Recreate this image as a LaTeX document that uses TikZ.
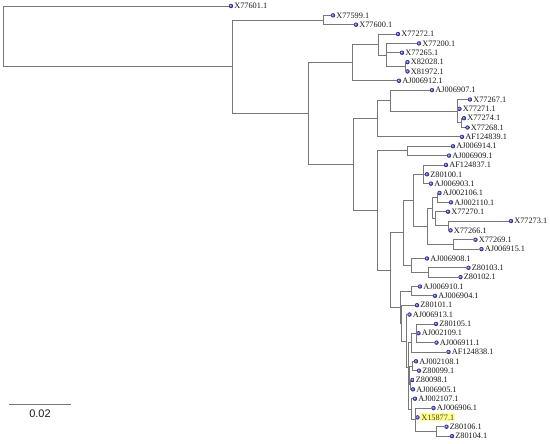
\documentclass[tikz,border=0pt]{standalone}
\usepackage{fontspec}
\newfontfamily\labfont{Liberation Serif}
\newfontfamily\barfont{Liberation Sans}
\definecolor{linegray}{RGB}{120,120,120}
\definecolor{dotblue}{RGB}{70,70,215}
\definecolor{labtext}{RGB}{25,25,25}
\definecolor{hlyellow}{RGB}{255,255,150}
\definecolor{hltext}{RGB}{70,70,0}
\tikzset{
  branch/.style={draw=linegray, line width=0.8pt},
  leaf/.style={circle, inner sep=0pt, minimum size=4.4pt, shading=ball, ball color=dotblue},
  lab/.style={font=\labfont\fontsize{8.3}{9}\selectfont, text=labtext, inner sep=0.7pt},
  barlab/.style={font=\barfont\fontsize{11}{12}\selectfont, text=labtext, inner sep=0pt}
}
\begin{document}
\begin{tikzpicture}[x=1pt,y=-1pt]
\useasboundingbox (0,0) rectangle (550,444);
% internal nodes
\coordinate (nRoot) at (3,36.4);
\coordinate (nA) at (232,66.85);
\coordinate (nB) at (323,20);
\coordinate (nC) at (308,113.7);
\coordinate (nN4) at (352,62.7);
\coordinate (nN3) at (378,44.6);
\coordinate (nN1) at (386,55.1);
\coordinate (nN2) at (405,66.8);
\coordinate (nD) at (353,164.6);
\coordinate (nCl) at (377,118.8);
\coordinate (nP) at (390,100.7);
\coordinate (nQ) at (457,111.2);
\coordinate (nR) at (461,122.9);
\coordinate (nE) at (377,210.5);
\coordinate (nW) at (407,150.9);
\coordinate (nF) at (390,270);
\coordinate (nG) at (403,232.9);
\coordinate (nH) at (413,200.3);
\coordinate (nK) at (423,174.3);
\coordinate (nU) at (427,226.3);
\coordinate (nM) at (432,208.2);
\coordinate (nS) at (437,197.7);
\coordinate (nNn) at (435,218.7);
\coordinate (nO) at (448,225.7);
\coordinate (nT) at (453,244.4);
\coordinate (nI) at (411.5,265.5);
\coordinate (nJ) at (428,272.5);
\coordinate (nX) at (400,307.2);
\coordinate (nY) at (411,291.2);
\coordinate (nQ5) at (401.5,323.1);
\coordinate (nQ4) at (406.5,341);
\coordinate (nQ3) at (408,367.4);
\coordinate (nZ2) at (411.5,342.6);
\coordinate (nZ1) at (416,333.25);
\coordinate (nQ2) at (408.8,392.3);
\coordinate (nQ1) at (409.5,375.3);
\coordinate (nP5) at (412.5,366);
\coordinate (nP4) at (410,384.7);
\coordinate (nP3) at (411.7,409.2);
\coordinate (nP2) at (415,419.7);
\coordinate (nP1) at (436.7,431.4);
% leaves
\node[leaf,label={[lab]right:X77601.1}] (l0) at (231,6) {};
\node[leaf,label={[lab]right:X77599.1}] (l1) at (333,15.35) {};
\node[leaf,label={[lab]right:X77600.1}] (l2) at (356,24.7) {};
\node[leaf,label={[lab]right:X77272.1}] (l3) at (398,34.05) {};
\node[leaf,label={[lab]right:X77200.1}] (l4) at (419,43.4) {};
\node[leaf,label={[lab]right:X77265.1}] (l5) at (402,52.75) {};
\node[leaf,label={[lab]right:X82028.1}] (l6) at (407.5,62.1) {};
\node[leaf,label={[lab]right:X81972.1}] (l7) at (407.5,71.45) {};
\node[leaf,label={[lab]right:AJ006912.1}] (l8) at (399,80.8) {};
\node[leaf,label={[lab]right:AJ006907.1}] (l9) at (432,90.15) {};
\node[leaf,label={[lab]right:X77267.1}] (l10) at (470,99.5) {};
\node[leaf,label={[lab]right:X77271.1}] (l11) at (459.5,108.85) {};
\node[leaf,label={[lab]right:X77274.1}] (l12) at (464,118.2) {};
\node[leaf,label={[lab]right:X77268.1}] (l13) at (467.5,127.55) {};
\node[leaf,label={[lab]right:AF124839.1}] (l14) at (462,136.9) {};
\node[leaf,label={[lab]right:AJ006914.1}] (l15) at (453,146.25) {};
\node[leaf,label={[lab]right:AJ006909.1}] (l16) at (449,155.6) {};
\node[leaf,label={[lab]right:AF124837.1}] (l17) at (446,164.95) {};
\node[leaf,label={[lab]right:Z80100.1}] (l18) at (427,174.3) {};
\node[leaf,label={[lab]right:AJ006903.1}] (l19) at (431,183.65) {};
\node[leaf,label={[lab]right:AJ002106.1}] (l20) at (439.5,193) {};
\node[leaf,label={[lab]right:AJ002110.1}] (l21) at (451,202.35) {};
\node[leaf,label={[lab]right:X77270.1}] (l22) at (448,211.7) {};
\node[leaf,label={[lab]right:X77273.1}] (l23) at (511,221.05) {};
\node[leaf,label={[lab]right:X77266.1}] (l24) at (450.5,230.4) {};
\node[leaf,label={[lab]right:X77269.1}] (l25) at (475.5,239.75) {};
\node[leaf,label={[lab]right:AJ006915.1}] (l26) at (481.5,249.1) {};
\node[leaf,label={[lab]right:AJ006908.1}] (l27) at (427,258.45) {};
\node[leaf,label={[lab]right:Z80103.1}] (l28) at (468.5,267.8) {};
\node[leaf,label={[lab]right:Z80102.1}] (l29) at (460.5,277.15) {};
\node[leaf,label={[lab]right:AJ006910.1}] (l30) at (420,286.5) {};
\node[leaf,label={[lab]right:AJ006904.1}] (l31) at (435,295.85) {};
\node[leaf,label={[lab]right:Z80101.1}] (l32) at (417,305.2) {};
\node[leaf,label={[lab]right:AJ006913.1}] (l33) at (409.5,314.55) {};
\node[leaf,label={[lab]right:Z80105.1}] (l34) at (436,323.9) {};
\node[leaf,label={[lab]right:AJ002109.1}] (l35) at (418.5,333.25) {};
\node[leaf,label={[lab]right:AJ006911.1}] (l36) at (436.5,342.6) {};
\node[leaf,label={[lab]right:AF124838.1}] (l37) at (448.5,351.95) {};
\node[leaf,label={[lab]right:AJ002108.1}] (l38) at (416,361.3) {};
\node[leaf,label={[lab]right:Z80099.1}] (l39) at (419,370.65) {};
\node[leaf,label={[lab]right:Z80098.1}] (l40) at (412.5,380) {};
\node[leaf,label={[lab]right:AJ006905.1}] (l41) at (413,389.35) {};
\node[leaf,label={[lab]right:AJ002107.1}] (l42) at (415,398.7) {};
\node[leaf,label={[lab]right:AJ006906.1}] (l43) at (433.5,408.05) {};
\node[leaf,label={[lab,fill=hlyellow,text=hltext,inner sep=1.2pt]right:X15877.1}] (l44) at (417.5,417.4) {};
\node[leaf,label={[lab]right:Z80106.1}] (l45) at (446.5,426.75) {};
\node[leaf,label={[lab]right:Z80104.1}] (l46) at (452,436.1) {};
% branches
\draw[branch] (nRoot) |- (l0);
\draw[branch] (nRoot) |- (nA);
\draw[branch] (nA) |- (nB);
\draw[branch] (nA) |- (nC);
\draw[branch] (nB) |- (l1);
\draw[branch] (nB) |- (l2);
\draw[branch] (nC) |- (nN4);
\draw[branch] (nC) |- (nD);
\draw[branch] (nN4) |- (nN3);
\draw[branch] (nN4) |- (l8);
\draw[branch] (nN3) |- (l3);
\draw[branch] (nN3) |- (nN1);
\draw[branch] (nN1) |- (l4);
\draw[branch] (nN1) |- (l5);
\draw[branch] (nN1) |- (nN2);
\draw[branch] (nN2) |- (l6);
\draw[branch] (nN2) |- (l7);
\draw[branch] (nD) |- (nCl);
\draw[branch] (nD) |- (nE);
\draw[branch] (nCl) |- (nP);
\draw[branch] (nCl) |- (l14);
\draw[branch] (nP) |- (l9);
\draw[branch] (nP) |- (nQ);
\draw[branch] (nQ) |- (l10);
\draw[branch] (nQ) |- (l11);
\draw[branch] (nQ) |- (nR);
\draw[branch] (nR) |- (l12);
\draw[branch] (nR) |- (l13);
\draw[branch] (nE) |- (nW);
\draw[branch] (nE) |- (nF);
\draw[branch] (nW) |- (l15);
\draw[branch] (nW) |- (l16);
\draw[branch] (nF) |- (nG);
\draw[branch] (nF) |- (nX);
\draw[branch] (nG) |- (nH);
\draw[branch] (nG) |- (nI);
\draw[branch] (nH) |- (nK);
\draw[branch] (nH) |- (nU);
\draw[branch] (nK) |- (l17);
\draw[branch] (nK) |- (l18);
\draw[branch] (nK) |- (l19);
\draw[branch] (nU) |- (nM);
\draw[branch] (nU) |- (nT);
\draw[branch] (nM) |- (nS);
\draw[branch] (nM) |- (nNn);
\draw[branch] (nS) |- (l20);
\draw[branch] (nS) |- (l21);
\draw[branch] (nNn) |- (l22);
\draw[branch] (nNn) |- (nO);
\draw[branch] (nO) |- (l23);
\draw[branch] (nO) |- (l24);
\draw[branch] (nT) |- (l25);
\draw[branch] (nT) |- (l26);
\draw[branch] (nI) |- (l27);
\draw[branch] (nI) |- (nJ);
\draw[branch] (nJ) |- (l28);
\draw[branch] (nJ) |- (l29);
\draw[branch] (nX) |- (nY);
\draw[branch] (nX) |- (nQ5);
\draw[branch] (nY) |- (l30);
\draw[branch] (nY) |- (l31);
\draw[branch] (nQ5) |- (l32);
\draw[branch] (nQ5) |- (nQ4);
\draw[branch] (nQ4) |- (l33);
\draw[branch] (nQ4) |- (nQ3);
\draw[branch] (nQ3) |- (nZ2);
\draw[branch] (nQ3) |- (nQ2);
\draw[branch] (nZ2) |- (nZ1);
\draw[branch] (nZ2) |- (l37);
\draw[branch] (nZ1) |- (l34);
\draw[branch] (nZ1) |- (l35);
\draw[branch] (nZ1) |- (l36);
\draw[branch] (nQ2) |- (nQ1);
\draw[branch] (nQ2) |- (nP3);
\draw[branch] (nQ1) |- (nP5);
\draw[branch] (nQ1) |- (nP4);
\draw[branch] (nP5) |- (l38);
\draw[branch] (nP5) |- (l39);
\draw[branch] (nP4) |- (l40);
\draw[branch] (nP4) |- (l41);
\draw[branch] (nP3) |- (l42);
\draw[branch] (nP3) |- (nP2);
\draw[branch] (nP2) |- (l43);
\draw[branch] (nP2) |- (l44);
\draw[branch] (nP2) |- (nP1);
\draw[branch] (nP1) |- (l45);
\draw[branch] (nP1) |- (l46);
% scale bar
\coordinate (sbL) at (9,404);
\coordinate (sbR) at (71,404);
\draw[branch] (sbL) -- (sbR);
\node[barlab] (sbT) at (40,413.5) {0.02};
\end{tikzpicture}
\end{document}
